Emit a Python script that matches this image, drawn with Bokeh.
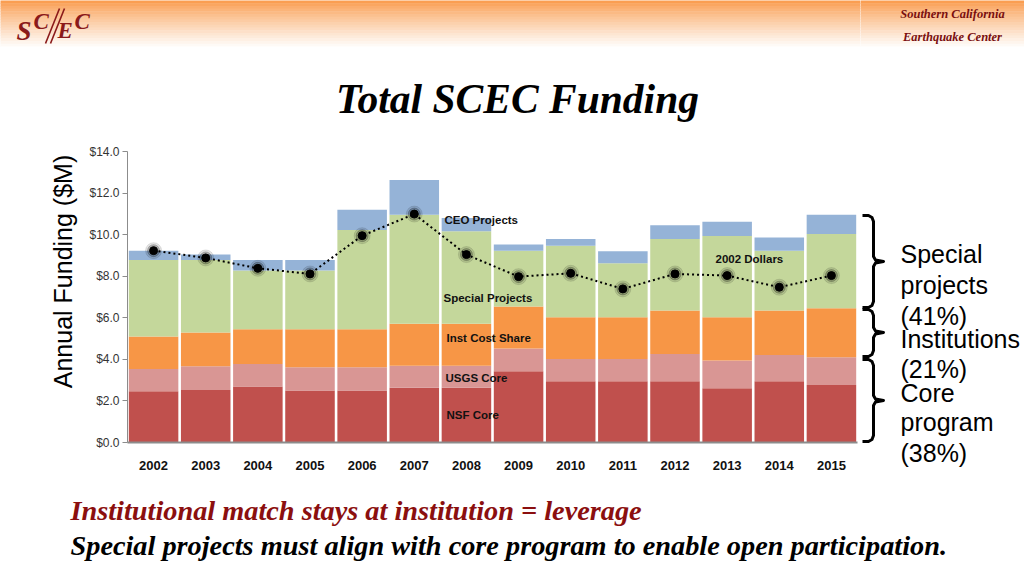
from math import pi
from bokeh.plotting import figure
from bokeh.layouts import column, row
from bokeh.models import (FactorRange, Range1d, Label, FixedTicker, NumeralTickFormatter,
                          ColumnDataSource)
from bokeh.embed import file_html
from bokeh.resources import INLINE

# ---------------- data ----------------
years = [str(y) for y in range(2002, 2016)]
nsf_core = [2.47, 2.53, 2.69, 2.50, 2.50, 2.63, 2.63, 3.43, 2.95, 2.95, 2.95, 2.61, 2.95, 2.77]
usgs_core = [1.07, 1.14, 1.09, 1.12, 1.12, 1.06, 1.06, 1.09, 1.07, 1.07, 1.31, 1.33, 1.26, 1.33]
inst_cost_share = [1.56, 1.62, 1.67, 1.83, 1.83, 2.02, 2.02, 2.02, 2.00, 2.00, 2.09, 2.08, 2.14, 2.36]
special_projects = [3.68, 3.49, 2.82, 2.82, 4.77, 5.25, 4.45, 2.69, 3.45, 2.60, 3.44, 3.92, 2.88, 3.57]
ceo_projects = [0.45, 0.26, 0.51, 0.51, 0.98, 1.67, 0.64, 0.30, 0.32, 0.58, 0.66, 0.68, 0.63, 0.93]
dollars_2002 = [9.23, 8.88, 8.38, 8.11, 9.95, 10.99, 9.04, 7.98, 8.14, 7.39, 8.11, 8.03, 7.47, 8.03]
y_ticks = [0, 2, 4, 6, 8, 10, 12, 14]

series_keys = ["nsf", "usgs", "inst", "special", "ceo"]
series_colors = ["#C0504D", "#D99694", "#F79646", "#C4D79B", "#95B3D7"]
series_names = ["NSF Core", "USGS Core", "Inst Cost Share", "Special Projects", "CEO Projects"]

brace_texts = [["Special", "projects", "(41%)"], ["Institutions", "(21%)"], ["Core", "program", "(38%)"]]

DARK_RED = "#8B1A1A"
SANS = "Liberation Sans"
SERIF = "Liberation Serif"

FL, FR, FT, FB = 127, 857, 151, 442   # page position of the chart frame


def blank(width, height, x0, x1, y0, y1, **kw):
    f = figure(width=width, height=height, x_range=Range1d(x0, x1), y_range=Range1d(y1, y0),
               output_backend="svg", toolbar_location=None, min_border=0,
               x_axis_location=None, y_axis_location=None, **kw)
    f.outline_line_color = None
    f.xgrid.grid_line_color = None
    f.ygrid.grid_line_color = None
    f.background_fill_color = "white"
    f.border_fill_color = "white"
    return f


def dlabel(f, x, y, text, size, font=SANS, style="normal", color="black", align="left", angle=0):
    f.add_layout(Label(x=x, y=y, text=text, text_font=font, text_font_size=f"{size}px",
                       text_font_style=style, text_color=color, text_align=align,
                       text_baseline="middle", angle=angle))


def gradient(f, x0, x1):
    top_rgb = (250, 158, 82)
    n = 18
    tops, bots, cols = [], [], []
    for i in range(n):
        t = (i / (n - 1)) ** 0.85
        r = int(top_rgb[0] + (255 - top_rgb[0]) * t)
        g = int(top_rgb[1] + (255 - top_rgb[1]) * t)
        b = int(top_rgb[2] + (255 - top_rgb[2]) * t)
        tops.append(i * 2.7 - (3 if i == 0 else 0))
        bots.append(i * 2.7 + 3.2)
        cols.append(f"#{r:02x}{g:02x}{b:02x}")
    f.quad(left=x0 - 10, right=x1 + 10, top=tops, bottom=bots, color=cols, line_color=None)


# ---------------- header, left part (page x 0..860, y 0..141) ----------------
head = blank(860, 141, 0, 860, 0, 141)
gradient(head, 0, 860)
dlabel(head, 16, 30, "S", 27, font=SERIF, style="bold italic", color=DARK_RED)
dlabel(head, 33, 21, "C", 23, font=SERIF, style="bold italic", color=DARK_RED)
dlabel(head, 57, 30, "E", 23, font=SERIF, style="bold italic", color=DARK_RED)
dlabel(head, 74, 21, "C", 23, font=SERIF, style="bold italic", color=DARK_RED)
head.segment(x0=[45, 50], y0=[43, 43], x1=[59, 64], y1=[8, 8], line_color=DARK_RED, line_width=1.6)
dlabel(head, 517, 98, "Total SCEC Funding", 41.5, font=SERIF, style="bold italic", align="center")

# ---------------- left panel with axis title (page x 0..80, y 141..480) ----------------
left = blank(80, 339, 0, 80, FT, FB)
left.min_border_top = FT - 141
left.min_border_bottom = 480 - FB
dlabel(left, 62, 271, "Annual Funding ($M)", 25, align="center", angle=pi / 2)

# ---------------- main chart (page x 80..860, y 141..480) ----------------
p = figure(width=780, height=339,
           x_range=FactorRange(factors=years, range_padding=0),
           y_range=Range1d(0, 14),
           output_backend="svg", toolbar_location=None,
           min_border_left=FL - 80, min_border_right=860 - FR,
           min_border_top=FT - 141, min_border_bottom=480 - FB)
p.outline_line_color = None
p.xgrid.grid_line_color = None
p.ygrid.grid_line_color = None
p.border_fill_color = "white"

src = ColumnDataSource(dict(year=years, nsf=nsf_core, usgs=usgs_core, inst=inst_cost_share,
                            special=special_projects, ceo=ceo_projects))
p.vbar_stack(series_keys, x="year", width=0.95, color=series_colors, line_color=None, source=src)

p.line(x=years, y=dollars_2002, line_color="black", line_width=2, line_dash="2 3")
p.scatter(x=years, y=dollars_2002, size=16, color="black", alpha=0.1)
p.scatter(x=years, y=dollars_2002, size=12, color="black", alpha=0.22)
p.scatter(x=years, y=dollars_2002, size=8, color="black")

yax = p.yaxis[0]
yax.ticker = FixedTicker(ticks=y_ticks)
yax.formatter = NumeralTickFormatter(format="$0.0")
yax.axis_line_color = "#8c8c8c"
yax.major_tick_line_color = "#8c8c8c"
yax.major_tick_out = 5
yax.major_tick_in = 0
yax.minor_tick_line_color = None
yax.major_label_standoff = 3
yax.major_label_text_font = SANS
yax.major_label_text_font_size = "12px"
yax.major_label_text_color = "#333333"

xax = p.xaxis[0]
xax.axis_line_color = "#8c8c8c"
xax.axis_line_width = 2
xax.major_tick_line_color = None
xax.minor_tick_line_color = None
xax.major_label_standoff = 12
xax.major_label_text_font = SANS
xax.major_label_text_font_style = "bold"
xax.major_label_text_font_size = "13px"
xax.major_label_text_color = "#111111"

for px, py, t in [(444, 219, series_names[4]), (443, 297, series_names[3]),
                  (446, 337, series_names[2]), (445, 377, series_names[1]),
                  (446, 414, series_names[0]), (715, 258, "2002 Dollars")]:
    p.add_layout(Label(x=px - FL, y=FB - py, x_units="screen", y_units="screen", text=t,
                       text_font=SANS, text_font_size="11.5px", text_font_style="bold",
                       text_color="#111111", text_baseline="middle"))

# ---------------- right column (page x 860..1024, y 0..480) ----------------
side = blank(164, 480, 860, 1024, 0, 480)
gradient(side, 860, 1024)
dlabel(side, 952, 13, "Southern California", 12.5, font=SERIF, style="bold italic",
       color="#7A0F0F", align="center")
dlabel(side, 952, 36, "Earthquake Center", 12.5, font=SERIF, style="bold italic",
       color="#7A0F0F", align="center")


def brace(f, y0, y1, ym):
    xv, xl, xm = 873, 862, 883
    xs = [xl, 868, 871.5, xv, xv, xv + 2, xm, xv + 2, xv, xv, 871.5, 868, xl]
    ys = [y0, y0, y0 + 2, y0 + 6, ym - 5, ym - 1.5, ym, ym + 1.5, ym + 5, y1 - 6, y1 - 2, y1, y1]
    f.line(xs, ys, line_color="black", line_width=3, line_join="round")


brace(side, 215, 307, 261)
brace(side, 309, 356, 332)
brace(side, 359, 441, 400)

line_ys = [[253, 284, 315], [338, 368], [392, 421, 452]]
for grp, ys in zip(brace_texts, line_ys):
    for t, yy in zip(grp, ys):
        dlabel(side, 900, yy, t, 25)

# ---------------- footer (page y 480..576) ----------------
foot = blank(1024, 96, 0, 1024, 480, 576)
dlabel(foot, 70, 510, "Institutional match stays at institution = leverage", 28.3, font=SERIF,
       style="bold italic", color="#8B0F0F")
dlabel(foot, 70, 545, "Special projects must align with core program to enable open participation.", 28.3,
       font=SERIF, style="bold italic")

layout = column(row(column(head, row(left, p, spacing=0), spacing=0), side, spacing=0), foot, spacing=0)
open("out.html", "w").write(file_html(layout, INLINE))
